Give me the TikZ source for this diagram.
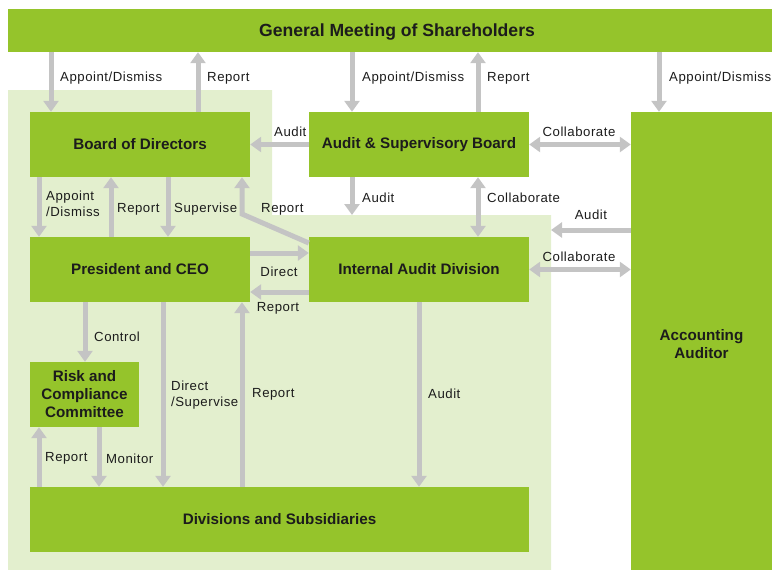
\documentclass[tikz,border=0pt]{standalone}
\usepackage{fontspec}
\setmainfont{Liberation Sans}
\usetikzlibrary{arrows.meta,calc}
\definecolor{bright}{HTML}{95C42B}
\definecolor{pale}{HTML}{E3EFCE}
\definecolor{arrowgray}{HTML}{C4C4C4}
\definecolor{txt}{HTML}{1C1C1C}
\begin{document}
\begin{tikzpicture}[x=1pt,y=-1pt,
  box/.style={fill=bright, draw=none, inner sep=0pt, align=center, text=txt,
    font=\fontsize{15.2}{18}\selectfont\bfseries},
  lab/.style={font=\fontsize{13.2}{16}\selectfont\addfontfeature{LetterSpace=4}, text=txt, inner sep=0pt, align=left, yshift=-1.5pt},
  arr/.style={draw=arrowgray, line width=5pt, line join=miter, -{Triangle[width=15pt,length=11pt]}},
  darr/.style={draw=arrowgray, line width=5pt, {Triangle[width=15pt,length=11pt]}-{Triangle[width=15pt,length=11pt]}},
]
\useasboundingbox (0,0) rectangle (772,570);
% company region
\fill[pale] (8,90) -- (272,90) -- (272,215) -- (551,215) -- (551,570) -- (8,570) -- cycle;
\coordinate (regtop) at (352,215);
\coordinate (regright) at (551,230);

% boxes
\node[box, minimum width=764pt, minimum height=43pt, text depth=0pt, font=\fontsize{17.6}{20}\selectfont\bfseries] (gm) at (390,30.5) {\hspace*{14pt}General Meeting of Shareholders};
\node[box, minimum width=220pt, minimum height=65pt] (bod) at (140,144.5) {Board of Directors};
\node[box, minimum width=220pt, minimum height=65pt] (asb) at (419,144.5) {Audit \& Supervisory Board};
\node[box, minimum width=141pt, minimum height=458pt] (aa) at (701.5,341) {};
\node[box] (aat) at (701.5,344) {Accounting\\Auditor};
\node[box, minimum width=220pt, minimum height=65pt] (pceo) at (140,269.5) {President and CEO};
\node[box, minimum width=220pt, minimum height=65pt] (iad) at (419,269.5) {Internal Audit Division};
\node[box, minimum width=109pt, minimum height=65pt] (rcc) at (84.5,394.5) {Risk and\\Compliance\\Committee};
\node[box, minimum width=499pt, minimum height=65pt] (ds) at (279.5,519.5) {Divisions and Subsidiaries};

% arrows
\draw[arr] (gm.south -| 51,0) -- (bod.north -| 51,0);
\draw[arr] (bod.north -| 198,0) -- (gm.south -| 198,0);
\draw[arr] (gm.south -| 352,0) -- (asb.north -| 352,0);
\draw[arr] (asb.north -| 478,0) -- (gm.south -| 478,0);
\draw[arr] (gm.south -| 659,0) -- (aa.north -| 659,0);
\draw[arr] (asb.west) -- (bod.east);
\draw[darr] (asb.east) -- (aa.west |- asb.east);
\draw[arr] (asb.south -| regtop) -- (regtop);
\draw[darr] (asb.south -| 478,0) -- (iad.north -| 478,0);
\draw[arr] (aa.west |- regright) -- (regright);
\draw[darr] (iad.east) -- (aa.west |- iad.east);
\draw[arr] (bod.south -| 39,0) -- (pceo.north -| 39,0);
\draw[arr] (pceo.north -| 111,0) -- (bod.south -| 111,0);
\draw[arr] (bod.south -| 168,0) -- (pceo.north -| 168,0);
\draw[arr] (iad.west |- 0,243) -- (242,214) -- (bod.south -| 242,0);
\draw[arr] (pceo.east |- 0,253) -- (iad.west |- 0,253);
\draw[arr] (iad.west |- 0,292) -- (pceo.east |- 0,292);
\draw[arr] (pceo.south -| 85,0) -- (rcc.north -| 85,0);
\draw[arr] (pceo.south -| 163,0) -- (ds.north -| 163,0);
\draw[arr] (ds.north -| 242,0) -- (pceo.south -| 242,0);
\draw[arr] (ds.north -| 39,0) -- (rcc.south -| 39,0);
\draw[arr] (rcc.south -| 99,0) -- (ds.north -| 99,0);
\draw[arr] (iad.south -| 419,0) -- (ds.north -| 419,0);

% labels
\node[lab, anchor=west] (l1) at (60,77) {Appoint/Dismiss};
\node[lab, anchor=west] (l2) at (207,77) {Report};
\node[lab, anchor=west] (l3) at (362,77) {Appoint/Dismiss};
\node[lab, anchor=west] (l4) at (487,77) {Report};
\node[lab, anchor=west] (l5) at (669,77) {Appoint/Dismiss};
\node[lab, anchor=west] (l6) at (274,130) {Audit};
\node[lab] (l7) at (579,130) {Collaborate};
\node[lab, anchor=west] (l8) at (362,196) {Audit};
\node[lab, anchor=west] (l9) at (487,196) {Collaborate};
\node[lab] (l10) at (591,213) {Audit};
\node[lab] (l11) at (579,255) {Collaborate};
\node[lab, anchor=west] (l12) at (46,202) {Appoint\\/Dismiss};
\node[lab, anchor=west] (l13) at (117,208) {Report};
\node[lab, anchor=west] (l14) at (174,208) {Supervise};
\node[lab, anchor=west] (l15) at (261,208) {Report};
\node[lab] (l16) at (279,270) {Direct};
\node[lab] (l17) at (278,307) {Report};
\node[lab, anchor=west] (l18) at (94,335) {Control};
\node[lab, anchor=west] (l19) at (171,394) {Direct\\/Supervise};
\node[lab, anchor=west] (l20) at (252,393) {Report};
\node[lab, anchor=west] (l21) at (45,457) {Report};
\node[lab, anchor=west] (l22) at (106,457) {Monitor};
\node[lab, anchor=west] (l23) at (428,392) {Audit};
\end{tikzpicture}
\end{document}
